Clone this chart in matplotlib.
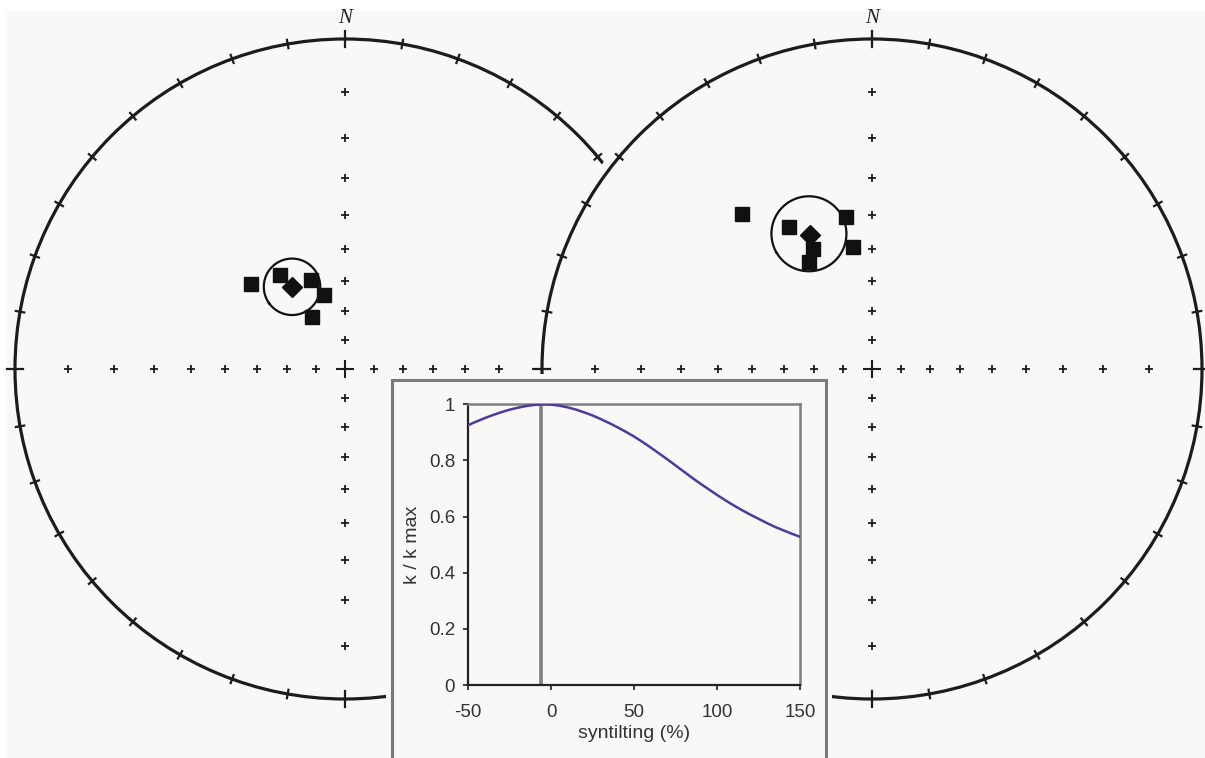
import numpy as np
import matplotlib.pyplot as plt
from matplotlib.patches import Circle, Rectangle

plt.rcParams['font.family'] = ['Liberation Sans', 'DejaVu Sans']
plt.rcParams['axes.unicode_minus'] = False

# site directions (declination, inclination)
left_dec = [312.0, 325.3, 339.1, 344.3, 327.7]
left_inc = [47.9, 51.9, 57.8, 63.9, 68.8]
left_mean = (327.2, 57.2)
left_a95 = 9.0

right_dec = [320.0, 329.8, 350.2, 351.0, 334.0, 329.4]
right_inc = [27.1, 37.1, 40.0, 49.0, 45.8, 48.8]
right_mean = (335.0, 41.8)
right_a95 = 10.8

# fold test curve
syntilt = [-50, -45, -40, -35, -30, -25, -20, -15, -10, -5, 0, 5, 10, 15, 20,
           25, 30, 35, 40, 45, 50, 55, 60, 65, 70, 75, 80, 85, 90, 95, 100,
           105, 110, 115, 120, 125, 130, 135, 140, 145, 150]
k_ratio = [0.926, 0.939, 0.951, 0.962, 0.972, 0.981, 0.988, 0.994, 0.998, 1.0,
           0.999, 0.995, 0.989, 0.981, 0.971, 0.960, 0.947, 0.933, 0.918, 0.902,
           0.885, 0.866, 0.846, 0.825, 0.804, 0.782, 0.760, 0.738, 0.717, 0.697,
           0.677, 0.658, 0.640, 0.623, 0.607, 0.592, 0.577, 0.563, 0.551, 0.539,
           0.528]
best_syntilt = -6

W, H = 1205, 758
BG = '#f9f8f6'
INK = '#1c1c1c'

fig = plt.figure(figsize=(W / 100, H / 100), dpi=100, facecolor='white')


def fig_box(x0, y0, x1, y1):
    # pixel box, origin top-left -> figure fraction
    return [x0 / W, 1 - y1 / H, (x1 - x0) / W, (y1 - y0) / H]


fig.patches.append(Rectangle((7 / W, 0), 1, 1 - 11 / H, transform=fig.transFigure,
                             fc=BG, ec='none', zorder=0))


def wulff(dec, inc):
    dec = np.radians(np.asarray(dec, float))
    r = np.tan(np.radians(90 - np.asarray(inc, float)) / 2)
    return r * np.sin(dec), r * np.cos(dec)


def small_circle(dec, inc, a95):
    d, i = np.radians(dec), np.radians(inc)
    m = np.array([np.cos(i) * np.cos(d), np.cos(i) * np.sin(d), np.sin(i)])
    u = np.cross(m, [0, 0, 1.0])
    u /= np.linalg.norm(u)
    v = np.cross(m, u)
    t = np.linspace(0, 2 * np.pi, 200)
    a = np.radians(a95)
    p = (np.cos(a) * m[:, None] + np.sin(a) * (np.outer(u, np.cos(t)) + np.outer(v, np.sin(t))))
    decs = np.degrees(np.arctan2(p[1], p[0]))
    incs = np.degrees(np.arcsin(p[2]))
    return wulff(decs, incs)


R = 330
PAD = 1.1


def draw_net(cx, cy, decs, incs, mean, a95, z, cover=False):
    ax = fig.add_axes(fig_box(cx - PAD * R, cy - PAD * R, cx + PAD * R, cy + PAD * R))
    ax.set_xlim(-PAD, PAD)
    ax.set_ylim(-PAD, PAD)
    ax.set_aspect('equal')
    ax.axis('off')
    ax.patch.set_visible(False)
    ax.set_zorder(z)
    if cover:
        ax.add_patch(Circle((0, 0), 1.027, fc=BG, ec='none', zorder=0, clip_on=False))
    ax.add_patch(Circle((0, 0), 1, fill=False, ec=INK, lw=2.3, zorder=2, clip_on=False))
    for az in range(0, 360, 10):
        L = 0.025 if az % 90 == 0 else 0.013
        s, c = np.sin(np.radians(az)), np.cos(np.radians(az))
        ax.plot([(1 - L) * s, (1 + L) * s], [(1 - L) * c, (1 + L) * c],
                color=INK, lw=1.6, clip_on=False, zorder=2)
    rr = np.tan(np.radians(90 - np.arange(10, 90, 10)) / 2)
    ax.plot(np.r_[rr, -rr], np.zeros(2 * len(rr)), '+', color=INK, ms=6, mew=1.3,
            ls='none', clip_on=False)
    ax.plot(np.zeros(2 * len(rr)), np.r_[rr, -rr], '+', color=INK, ms=6, mew=1.3,
            ls='none', clip_on=False)
    ax.plot([0], [0], '+', color=INK, ms=13, mew=1.5)
    ax.text(0, 1.062, 'N', ha='center', va='center', fontsize=15,
            family='Liberation Serif', style='italic', color='#222222')
    x, y = wulff(decs, incs)
    ax.plot(x, y, 's', color='#111111', ms=9.4, ls='none', zorder=4)
    cxs, cys = small_circle(mean[0], mean[1], a95)
    ax.plot(cxs, cys, color='#111111', lw=1.6, zorder=5)
    mx, my = wulff([mean[0]], [mean[1]])
    ax.plot(mx, my, 'D', color='#111111', ms=10, ls='none', zorder=6)
    return ax


draw_net(345, 369, left_dec, left_inc, left_mean, left_a95, 1)
draw_net(872, 369, right_dec, right_inc, right_mean, right_a95, 2, cover=True)

# inset frame
fig.patches.append(Rectangle((386 / W, -0.05), 446 / W, 0.05 + (H - 374) / H,
                             transform=fig.transFigure, fc=BG, ec='none', zorder=3))
fig.patches.append(Rectangle((392 / W, -0.05), 434 / W, 0.05 + (H - 380) / H,
                             transform=fig.transFigure, fc='none', ec='#7a7a7a',
                             lw=2.2, zorder=3.5))

ax = fig.add_axes(fig_box(468.3, 404.3, 800, 685))
ax.set_zorder(4)
ax.set_facecolor(BG)
ax.plot(syntilt, k_ratio, color='#4a3c9c', lw=1.8, zorder=3)
ax.axvline(best_syntilt, color='#7f7f7f', lw=2.6, zorder=2)
ax.set_xlim(-50, 150)
ax.set_ylim(0, 1)
ax.set_xticks([-50, 0, 50, 100, 150])
ax.set_yticks([0, 0.2, 0.4, 0.6, 0.8, 1])
ax.set_yticklabels(['0', '0.2', '0.4', '0.6', '0.8', '1'])
ax.tick_params(direction='out', length=3.5, width=1.2, color='#222222',
               labelsize=13.5, labelcolor='#333333', pad=6)
ax.tick_params(axis='x', pad=10)
for side in ['left', 'bottom']:
    ax.spines[side].set_color('#222222')
    ax.spines[side].set_linewidth(1.6)
for side in ['top', 'right']:
    ax.spines[side].set_color('#808080')
    ax.spines[side].set_linewidth(1.8)
ax.set_xlabel('syntilting (%)', fontsize=14, color='#333333', labelpad=3)
ax.set_ylabel('k / k max', fontsize=14, color='#333333', labelpad=6)

fig.savefig('out.png', dpi=100, facecolor=fig.get_facecolor())
